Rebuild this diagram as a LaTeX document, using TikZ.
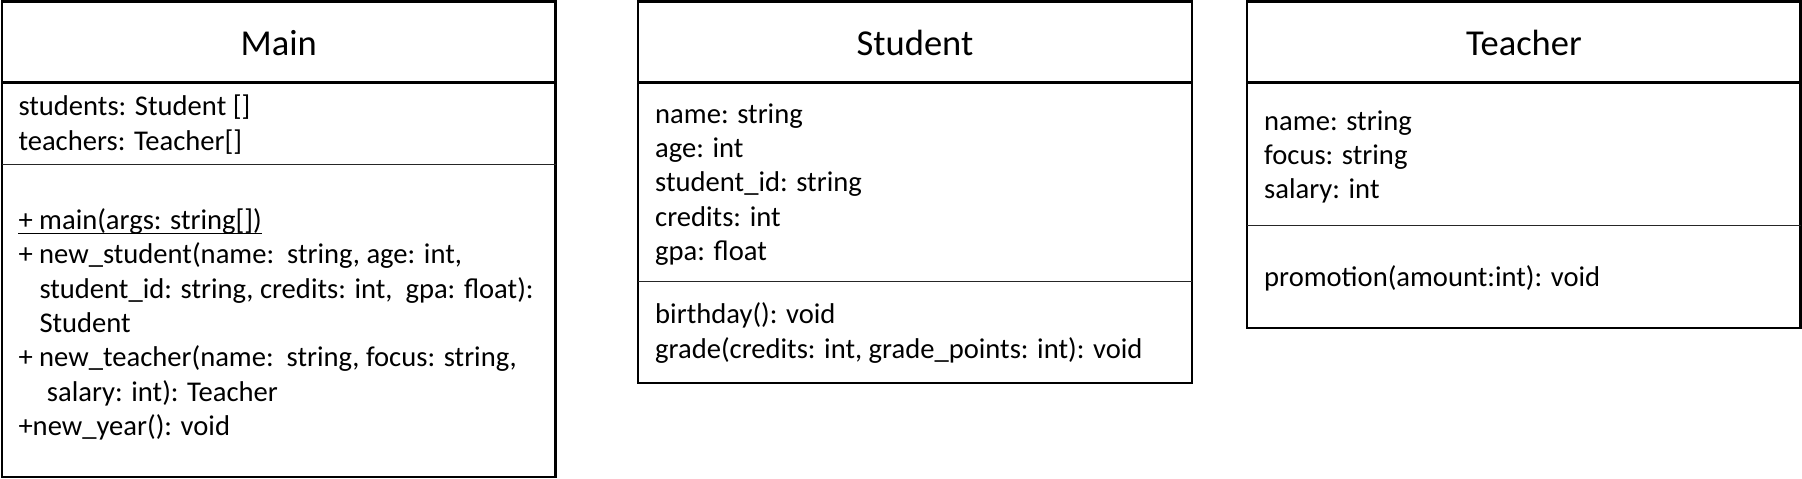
\documentclass[tikz,border=0pt]{standalone}
\usepackage{fontspec}
\setmainfont{Carlito}
\begin{document}
\begin{tikzpicture}[x=1pt,y=-1pt,
  box/.style={draw=black,line width=2.1pt},
  headline/.style={draw=black,line width=2.6pt},
  attrline/.style={draw=black!85,line width=1.6pt},
  title/.style={anchor=base,inner sep=0pt,font=\fontsize{36.5}{44}\selectfont},
  txt/.style={anchor=base west,inner sep=0pt,font=\fontsize{28.6}{34}\selectfont}]
\fill[white] (0,0) rectangle (1802,479);
\useasboundingbox (0,0) rectangle (1802,479);
% ---------- Main ----------
\draw[box] (2,1.5) rectangle (555.5,477);
\draw[headline] (2,82.7) -- (555.5,82.7);
\draw[attrline] (2,164.3) -- (555.5,164.3);
\node[title] (mainT) at (278.7,55) {Main};
\node[txt] (ma1) at (18.3,115.7) {students: Student []};
\node[txt] (ma2) at (18.3,150.7) {teachers: Teacher[]};
\node[txt] (mm1) at (18.3,229.5) {+ main(args: string[])};
\draw[line width=1.3pt] ([yshift=-4pt]mm1.base west) -- ([yshift=-4pt]mm1.base east);
\node[txt] (mm2) at (18.3,263.8) {+ new\_student(name:\ \ string, age: int,};
\node[txt] (mm3) at (39.3,298.1) {student\_id: string, credits: int,\ \ gpa: float):};
\node[txt] (mm4) at (39.3,332.4) {Student};
\node[txt] (mm5) at (18.3,366.7) {+ new\_teacher(name:\ \ string, focus: string,};
\node[txt] (mm6) at (46.7,401) {salary: int): Teacher};
\node[txt] (mm7) at (18.3,435.3) {+new\_year(): void};
% ---------- Student ----------
\draw[box] (638.3,1.5) rectangle (1191.7,383.3);
\draw[headline] (638.3,82.7) -- (1191.7,82.7);
\draw[attrline] (638.3,281.3) -- (1191.7,281.3);
\node[title] (stuT) at (915,55) {Student};
\node[txt] (sa1) at (655,123.3) {name: string};
\node[txt] (sa2) at (655,157.5) {age: int};
\node[txt] (sa3) at (655,191.7) {student\_id: string};
\node[txt] (sa4) at (655,226) {credits: int};
\node[txt] (sa5) at (655,260.2) {gpa: float};
\node[txt] (sm1) at (655,323.5) {birthday(): void};
\node[txt] (sm2) at (655,358) {grade(credits: int, grade\_points: int): void};
% ---------- Teacher ----------
\draw[box] (1247.3,1.5) rectangle (1800.5,327.7);
\draw[headline] (1247.3,82.7) -- (1800.5,82.7);
\draw[attrline] (1247.3,225.5) -- (1800.5,225.5);
\node[title] (teaT) at (1523.9,55) {Teacher};
\node[txt] (ta1) at (1264,130) {name: string};
\node[txt] (ta2) at (1264,164.3) {focus: string};
\node[txt] (ta3) at (1264,198.3) {salary: int};
\node[txt] (tm1) at (1264,286.7) {promotion(amount:int): void};
\end{tikzpicture}
\end{document}
